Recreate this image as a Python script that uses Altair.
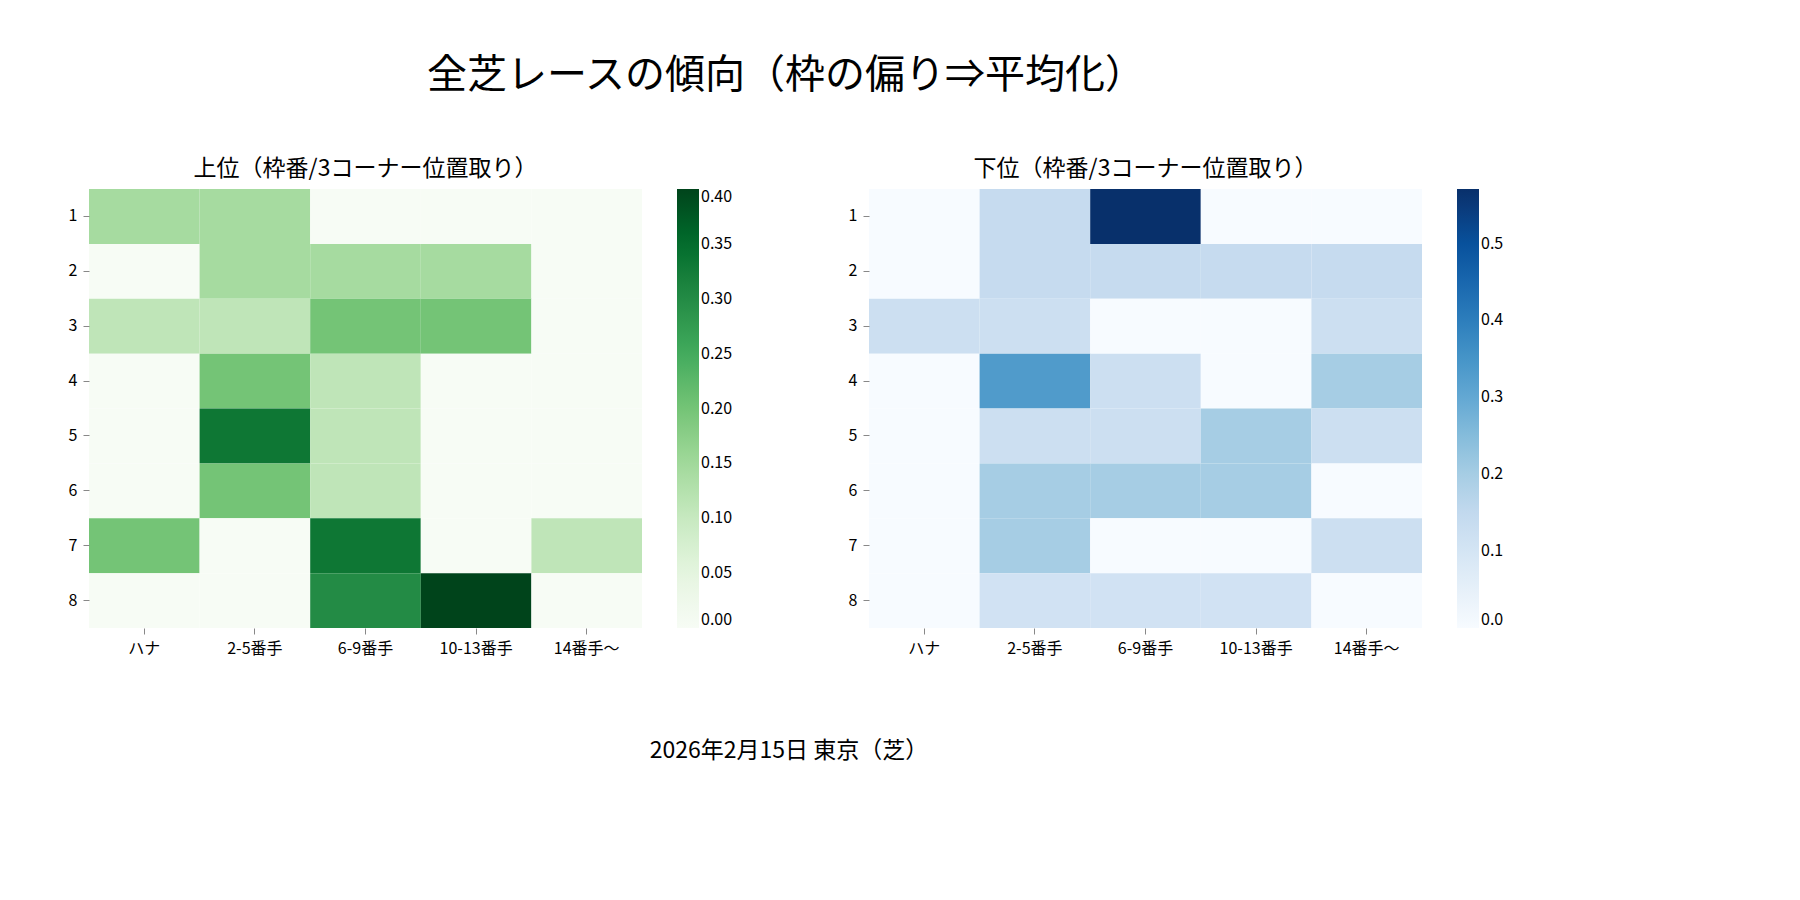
import altair as alt
import pandas as pd

FONT = "Noto Sans CJK JP"

positions = ["ハナ", "2-5番手", "6-9番手", "10-13番手", "14番手〜"]
gates = [1, 2, 3, 4, 5, 6, 7, 8]

top_values = [
    [0.143, 0.143, 0.0, 0.0, 0.0],
    [0.0, 0.143, 0.143, 0.143, 0.0],
    [0.111, 0.111, 0.2, 0.2, 0.0],
    [0.0, 0.2, 0.111, 0.0, 0.0],
    [0.0, 0.333, 0.111, 0.0, 0.0],
    [0.0, 0.2, 0.111, 0.0, 0.0],
    [0.2, 0.0, 0.333, 0.0, 0.111],
    [0.0, 0.0, 0.3, 0.4, 0.0],
]
bottom_values = [
    [0.0, 0.143, 0.571, 0.0, 0.0],
    [0.0, 0.143, 0.143, 0.143, 0.143],
    [0.125, 0.125, 0.0, 0.0, 0.125],
    [0.0, 0.333, 0.125, 0.0, 0.2],
    [0.0, 0.125, 0.125, 0.2, 0.125],
    [0.0, 0.2, 0.2, 0.2, 0.0],
    [0.0, 0.2, 0.0, 0.0, 0.125],
    [0.0, 0.111, 0.111, 0.111, 0.0],
]

main_title = "全芝レースの傾向（枠の偏り⇒平均化）"
footer = ["2026年2月15日 東京（芝）"]

GREENS = ["#f7fcf5", "#e5f5e0", "#c7e9c0", "#a1d99b", "#74c476",
          "#41ab5d", "#238b45", "#006d2c", "#00441b"]
BLUES = ["#f7fbff", "#deebf7", "#c6dbef", "#9ecae1", "#6baed6",
         "#4292c6", "#2171b5", "#08519c", "#08306b"]


def _frame(values):
    rows = []
    for g, row in zip(gates, values):
        for p, v in zip(positions, row):
            rows.append({"gate": g, "pos": p, "value": v})
    return pd.DataFrame(rows)


def _heatmap(values, title, colors, vmax, ticks, fmt):
    stops = [vmax * i / (len(colors) - 1) for i in range(len(colors))]
    return alt.Chart(_frame(values)).mark_rect().encode(
        x=alt.X("pos:N", sort=positions, title=None,
                axis=alt.Axis(labelAngle=0, domain=False, tickSize=6, labelPadding=6,
                              labelFont=FONT, labelFontSize=16, labelColor="black")),
        y=alt.Y("gate:O", sort=gates, title=None,
                axis=alt.Axis(domain=False, tickSize=6, labelPadding=6,
                              labelFont=FONT, labelFontSize=16, labelColor="black")),
        color=alt.Color("value:Q", scale=alt.Scale(domain=stops, range=colors),
                        legend=alt.Legend(title=None, values=ticks, format=fmt,
                                          gradientLength=439, gradientThickness=22,
                                          offset=35, labelFontSize=16, labelFont=FONT,
                                          labelColor="black")),
    ).properties(
        width=553, height=439,
        title=alt.TitleParams(title, fontSize=23, font=FONT, fontWeight="normal", offset=8),
    )


left = _heatmap(top_values, "上位（枠番/3コーナー位置取り）", GREENS, 0.40,
                [0, 0.05, 0.1, 0.15, 0.2, 0.25, 0.3, 0.35, 0.4], ".2f")
right = _heatmap(bottom_values, "下位（枠番/3コーナー位置取り）", BLUES, 0.571,
                 [0, 0.1, 0.2, 0.3, 0.4, 0.5], ".1f")

foot = alt.Chart(pd.DataFrame({"t": footer})).mark_text(
    font=FONT, fontSize=23, color="black"
).encode(text="t:N", x=alt.value(700), y=alt.value(20)).properties(width=1400, height=40)

chart = alt.vconcat(
    alt.hconcat(left, right, spacing=115).resolve_scale(color="independent"),
    foot, spacing=75,
).properties(
    title=alt.TitleParams(main_title, fontSize=40, font=FONT, fontWeight="normal",
                          anchor="middle", offset=62),
    background="white",
    padding={"left": 60, "top": 48, "right": 10, "bottom": 10},
).configure_view(stroke=None)

chart.save("out.html", embed_options={"renderer": "svg", "actions": False})
